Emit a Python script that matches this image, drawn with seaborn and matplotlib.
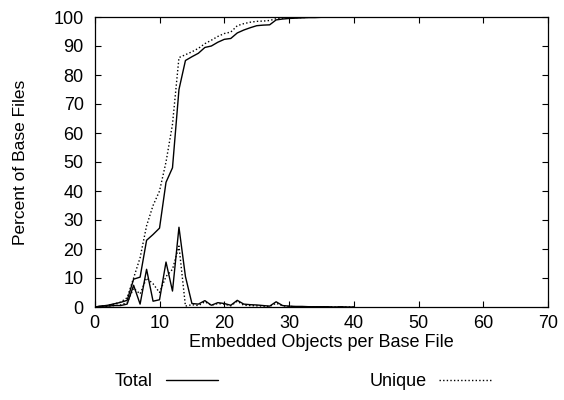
import matplotlib
matplotlib.use("Agg")
import matplotlib.pyplot as plt
import seaborn as sns
import pandas as pd

# embedded objects per base file
objects = list(range(0, 41))

# percent of base files with exactly n embedded objects
total_pct = [0.0, 0.3, 0.3, 0.5, 0.5, 1.0, 7.5, 1.0, 13.0, 2.0,
             2.5, 15.5, 5.5, 27.5, 10.5, 1.2, 1.0, 2.2, 0.6, 1.5,
             1.2, 0.6, 2.3, 1.0, 0.8, 0.7, 0.5, 0.3, 1.8, 0.5,
             0.3, 0.2, 0.2, 0.1, 0.1, 0.1, 0.1, 0.0, 0.1, 0.0, 0.0]
unique_pct = [0.0, 0.2, 0.3, 0.5, 0.7, 1.5, 6.5, 4.5, 10.0, 8.0,
              5.0, 10.5, 13.0, 21.0, 0.3, 0.8, 0.5, 1.8, 0.6, 1.2,
              1.0, 0.4, 2.0, 0.6, 0.5, 0.4, 0.3, 0.2, 1.3, 0.4,
              0.2, 0.1, 0.1, 0.1, 0.0, 0.1, 0.0, 0.0, 0.0, 0.0, 0.0]

# cumulative percent of base files
total_cum = [0.0, 0.3, 0.6, 1.1, 1.6, 2.3, 9.6, 10.3, 23.0, 25.0,
             27.2, 43.0, 48.0, 75.0, 85.0, 86.3, 87.5, 89.5, 90.0, 91.3,
             92.3, 92.6, 94.5, 95.5, 96.3, 97.0, 97.2, 97.3, 99.0, 99.3,
             99.5, 99.6, 99.7, 99.8, 99.8, 99.9, 99.9, 99.9, 100.0, 100.0, 100.0]
unique_cum = [0.0, 0.2, 0.5, 1.0, 1.7, 3.2, 10.0, 17.0, 28.0, 35.0,
              40.0, 50.0, 63.0, 86.0, 87.0, 88.0, 89.2, 90.8, 92.0, 93.3,
              94.3, 94.8, 97.0, 97.7, 98.2, 98.5, 98.6, 98.8, 99.4, 99.6,
              99.7, 99.8, 99.8, 99.9, 99.9, 99.9, 100.0, 100.0, 100.0, 100.0, 100.0]

df = pd.DataFrame({"n": objects, "total": total_pct, "unique": unique_pct,
                   "total_cum": total_cum, "unique_cum": unique_cum})

sns.set_theme(style="ticks")
plt.rcParams["font.family"] = ["Liberation Sans", "DejaVu Sans"]
plt.rcParams["font.size"] = 13
plt.rcParams["text.color"] = "black"
plt.rcParams["axes.labelcolor"] = "black"

fig = plt.figure(figsize=(5.64, 4.0), dpi=100)
ax = fig.add_axes([0.168, 0.2325, 0.804, 0.725])

dots = (0, (1, 1.6))
sns.lineplot(data=df, x="n", y="total_cum", color="black", lw=1.0, ax=ax, label="Total")
sns.lineplot(data=df, x="n", y="unique_cum", color="black", lw=1.0, ls=dots, ax=ax, label="Unique")
sns.lineplot(data=df, x="n", y="total", color="black", lw=1.0, ax=ax, label="_nolegend_")
sns.lineplot(data=df, x="n", y="unique", color="black", lw=1.0, ls=dots, ax=ax, label="_nolegend_")

ax.set_xlim(0, 70)
ax.set_ylim(0, 100)
ax.set_xticks(range(0, 71, 10))
ax.set_yticks(range(0, 101, 10))
ax.tick_params(direction="in", top=True, right=True, length=4.5, width=0.8,
               labelsize=13, colors="black")
ax.tick_params(axis="x", pad=5.5)
ax.tick_params(axis="y", pad=8)
for s in ax.spines.values():
    s.set_linewidth(0.9)
    s.set_color("black")
ax.set_xlabel("Embedded Objects per Base File", fontsize=13, labelpad=2)
ax.set_ylabel("Percent of Base Files", fontsize=12.5, labelpad=18)

ax.legend(loc="center left", bbox_to_anchor=(0.204, 0.045), bbox_transform=fig.transFigure,
          ncol=2, markerfirst=False, frameon=False, handlelength=2.9, handletextpad=0.7,
          columnspacing=8.4, borderpad=0, borderaxespad=0, fontsize=13)

fig.savefig("out.png", dpi=100)
